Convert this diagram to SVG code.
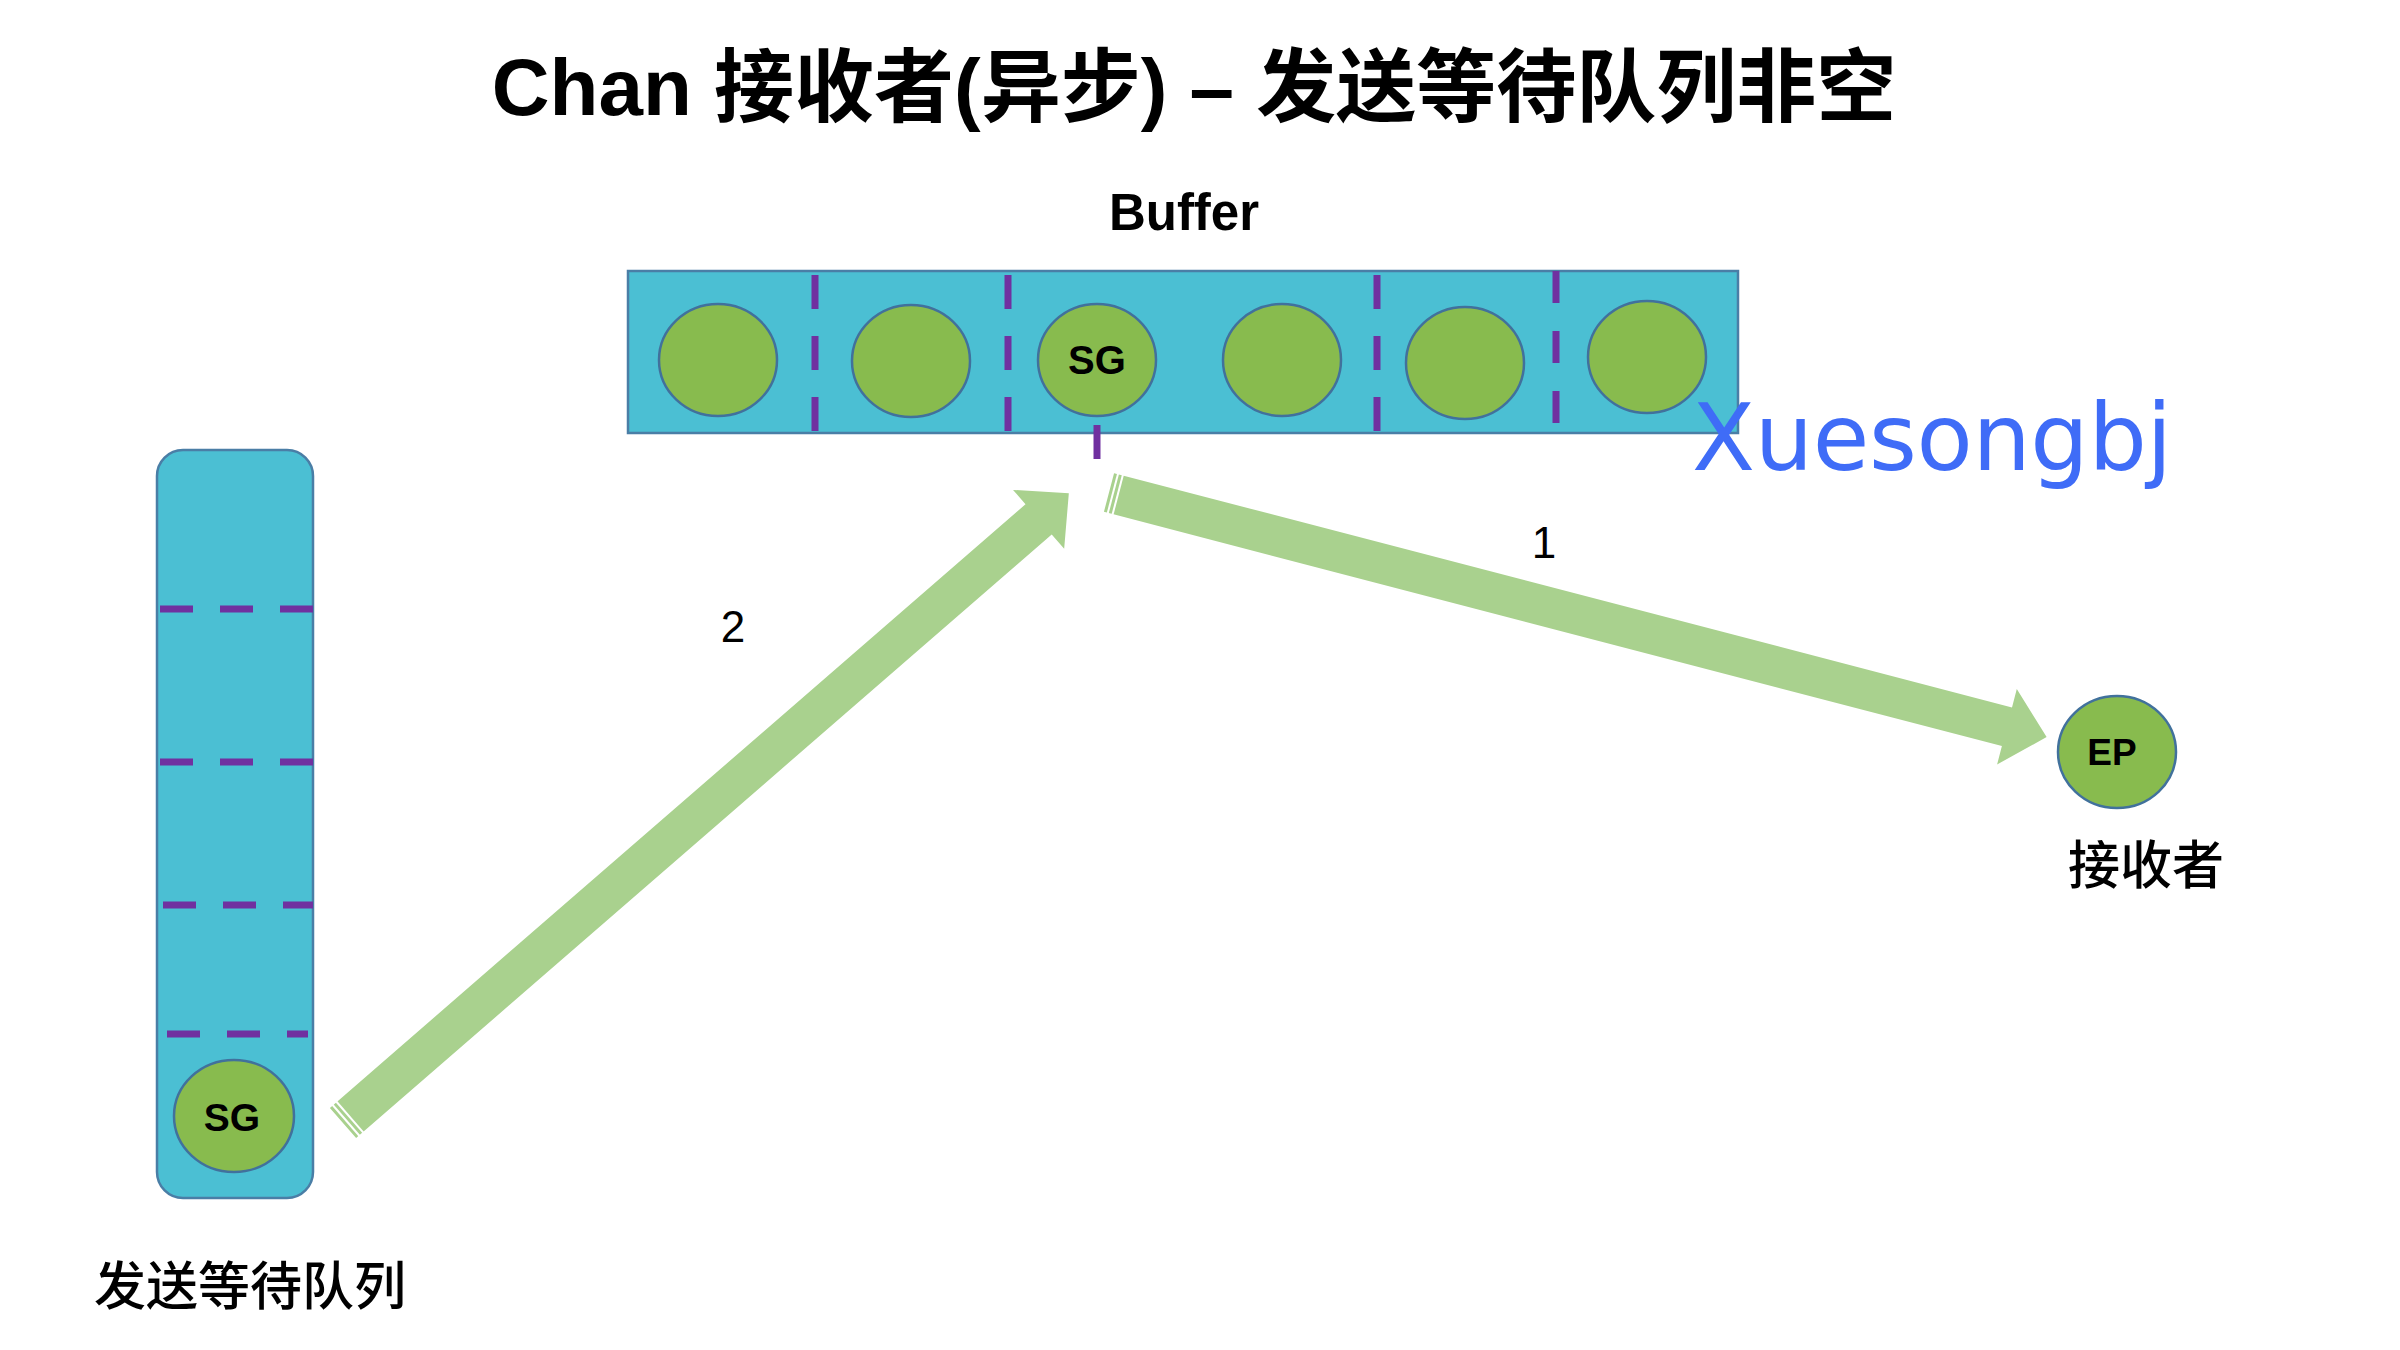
<svg xmlns="http://www.w3.org/2000/svg" width="2400" height="1350" viewBox="0 0 2400 1350">
<style>
.box{fill:#4BBFD3;stroke:#4A7EA6;stroke-width:2.5}
.ball{fill:#88BB4E;stroke:#41719C;stroke-width:2.5}
.vdash{stroke:#7030A0;stroke-width:7;stroke-dasharray:34 27;fill:none}
.hdash{stroke:#7030A0;stroke-width:7;stroke-dasharray:33 27;fill:none}
.lbl{font-family:"Liberation Sans",Arial,sans-serif;font-weight:bold;fill:#000;text-anchor:middle}
.cjk{font-family:"Liberation Sans","Noto Sans CJK SC",sans-serif;fill:#000;text-anchor:middle}
.arrow{fill:#A9D18E}
.stripe{stroke:#FFFFFF;stroke-width:2}
.num{font-family:"Liberation Sans",Arial,sans-serif;font-size:44px;fill:#000;text-anchor:middle}
</style>
<rect width="2400" height="1350" fill="#FFFFFF"/>
<text class="cjk" x="1194" y="115" font-size="80" font-weight="bold">Chan 接收者(异步) – 发送等待队列非空</text>
<g id="buffer">
  <text class="lbl" x="1184" y="230" font-size="51">Buffer</text>
  <rect class="box" x="628" y="271" width="1110" height="162"/>
  <line class="vdash" x1="815" y1="275" x2="815" y2="433"/>
  <line class="vdash" x1="1008" y1="275" x2="1008" y2="433"/>
  <line class="vdash" x1="1377" y1="275" x2="1377" y2="433"/>
  <line class="vdash" x1="1556" y1="271" x2="1556" y2="433" style="stroke-dasharray:32 28"/>
  <ellipse class="ball" cx="718" cy="360" rx="59" ry="56"/>
  <ellipse class="ball" cx="911" cy="361" rx="59" ry="56"/>
  <ellipse class="ball" cx="1097" cy="360" rx="59" ry="56"/>
  <ellipse class="ball" cx="1282" cy="360" rx="59" ry="56"/>
  <ellipse class="ball" cx="1465" cy="363" rx="59" ry="56"/>
  <ellipse class="ball" cx="1647" cy="357" rx="59" ry="56"/>
  <text class="lbl" x="1097" y="374" font-size="40">SG</text>
  <line x1="1097" y1="425" x2="1097" y2="459" stroke="#7030A0" stroke-width="7"/>
</g>
<g id="sendq">
  <rect class="box" x="157" y="450" width="156" height="748" rx="26"/>
  <line class="hdash" x1="160" y1="609" x2="313" y2="609"/>
  <line class="hdash" x1="160" y1="762" x2="313" y2="762"/>
  <line class="hdash" x1="163" y1="905" x2="313" y2="905"/>
  <line class="hdash" x1="167" y1="1034" x2="308" y2="1034"/>
  <ellipse class="ball" cx="234" cy="1116" rx="60" ry="56"/>
  <text class="lbl" x="232" y="1131" font-size="39">SG</text>
  <text class="cjk" x="250" y="1305" font-size="52" font-weight="500">发送等待队列</text>
</g>
<g id="receiver">
  <ellipse class="ball" cx="2117" cy="752" rx="59" ry="56"/>
  <text class="lbl" x="2112" y="765" font-size="37">EP</text>
  <text class="cjk" x="2146" y="884" font-size="52" font-weight="500">接收者</text>
</g>
<g id="connectors">
  <g transform="translate(343,1123) rotate(-40.95)">
    <polygon class="arrow" points="0,-20 921,-20 921,-39 961,0 921,39 921,20 0,20"/>
    <line class="stripe" x1="4" y1="-21" x2="4" y2="21"/>
    <line class="stripe" x1="9" y1="-21" x2="9" y2="21"/>
  </g>
  <g transform="translate(1109,492.5) rotate(14.62)">
    <polygon class="arrow" points="0,-20 928,-20 928,-39 969,0 928,39 928,20 0,20"/>
    <line class="stripe" x1="4" y1="-21" x2="4" y2="21"/>
    <line class="stripe" x1="9" y1="-21" x2="9" y2="21"/>
  </g>
  <text class="num" x="733" y="642">2</text>
  <text class="num" x="1544" y="558">1</text>
</g>
<text x="1692" y="470" font-family="DejaVu Sans,sans-serif" font-size="92" fill="#3F6CF7" textLength="480">Xuesongbj</text>
</svg>
